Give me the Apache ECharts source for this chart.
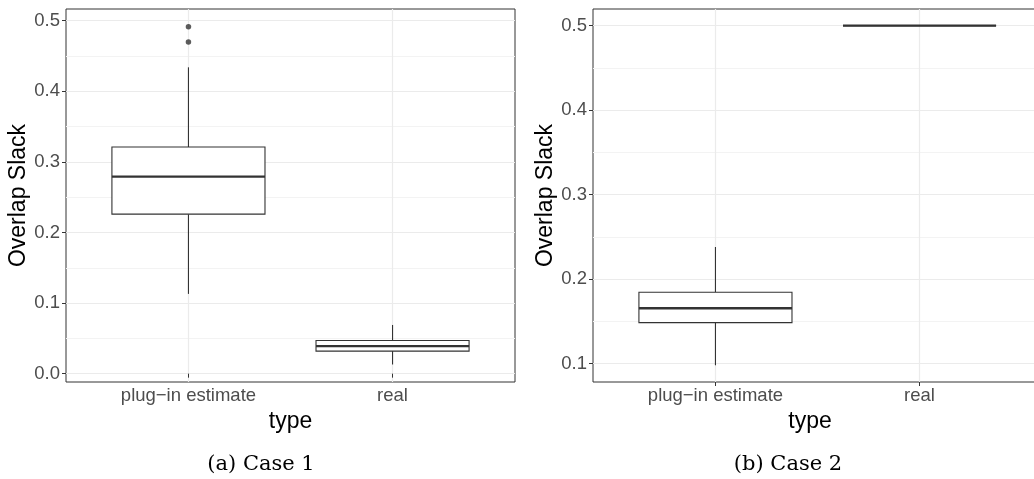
<!DOCTYPE html>
<html><head><meta charset="utf-8">
<script src="https://cdn.jsdelivr.net/npm/echarts@6/dist/echarts.min.js"></script>
<style>html,body{margin:0;padding:0;background:#fff}#c{width:1034px;height:479px}</style>
</head><body><div id="c"></div>
<script>
// ---- data ----
const categories = ['plug−in estimate', 'real'];
const catPositions = [1, 2];
// boxes: [lower whisker, Q1, median, Q3, upper whisker]
const case1Plugin = [0.113, 0.226, 0.279, 0.321, 0.434];
const case1Real = [0.013, 0.032, 0.039, 0.047, 0.069];
const case1PluginOutliers = [0.4915, 0.4698];
const case2Plugin = [0.098, 0.1485, 0.1655, 0.1845, 0.238];
const case2Real = [0.5, 0.5, 0.5, 0.5, 0.5];
const yTicks1 = [0, 0.1, 0.2, 0.3, 0.4, 0.5];
const yTicks2 = [0.1, 0.2, 0.3, 0.4, 0.5];
const yRange1 = [-0.0118, 0.5166];
const yRange2 = [0.0782, 0.5198];
const xRange = [0.4, 2.6];
const yTitle = 'Overlap Slack';
const xTitle = 'type';
const captions = ['(a) Case 1', '(b) Case 2'];

// ---- chart ----
const SANS = '"Liberation Sans", Arial, sans-serif';
const INK = '#333333';

function renderBox(params, api) {
  const x = api.value(0);
  const pLo = api.coord([x, api.value(1)]);
  const pQ1 = api.coord([x, api.value(2)]);
  const pMd = api.coord([x, api.value(3)]);
  const pQ3 = api.coord([x, api.value(4)]);
  const pHi = api.coord([x, api.value(5)]);
  const hw = api.size([0.75, 0])[0] / 2;
  return {
    type: 'group',
    children: [
      {type: 'line', shape: {x1: pLo[0], y1: pLo[1], x2: pQ1[0], y2: pQ1[1]}, style: {stroke: INK, lineWidth: 1.1}},
      {type: 'line', shape: {x1: pQ3[0], y1: pQ3[1], x2: pHi[0], y2: pHi[1]}, style: {stroke: INK, lineWidth: 1.1}},
      {type: 'rect', shape: {x: pQ3[0] - hw, y: pQ3[1], width: 2 * hw, height: pQ1[1] - pQ3[1]},
        style: {stroke: INK, fill: '#ffffff', lineWidth: 1.1}},
      {type: 'line', shape: {x1: pMd[0] - hw, y1: pMd[1], x2: pMd[0] + hw, y2: pMd[1]}, style: {stroke: INK, lineWidth: 2.3}}
    ]
  };
}

function xAxisFor(idx, namePad) {
  return {
    gridIndex: idx, type: 'value', min: xRange[0], max: xRange[1],
    axisLine: {show: false},
    axisTick: {show: true, customValues: catPositions, length: 4, lineStyle: {color: INK, width: 1}},
    axisLabel: {customValues: catPositions, formatter: v => categories[Math.round(v) - 1],
      color: '#4d4d4d', fontSize: 18.5, fontFamily: SANS, margin: 4},
    splitLine: {show: true, lineStyle: {color: '#ebebeb', width: 1.2}},
    name: xTitle, nameLocation: 'middle', nameGap: 25,
    nameTextStyle: {color: '#000', fontSize: 23, fontFamily: SANS, padding: namePad}
  };
}
function yAxisFor(idx, range, ticks, gap) {
  return {
    gridIndex: idx, type: 'value', min: range[0], max: range[1],
    axisLine: {show: false},
    axisTick: {show: true, customValues: ticks, length: 4, lineStyle: {color: INK, width: 1}},
    axisLabel: {customValues: ticks, formatter: v => v.toFixed(1),
      color: '#4d4d4d', fontSize: 18.5, fontFamily: SANS, margin: 6},
    splitLine: {show: true, lineStyle: {color: '#ebebeb', width: 1.2}},
    minorTick: {show: false, splitNumber: 2},
    minorSplitLine: {show: true, lineStyle: {color: '#f3f3f3', width: 1}},
    name: yTitle, nameLocation: 'middle', nameGap: gap,
    nameTextStyle: {color: '#000', fontSize: 23, fontFamily: SANS}
  };
}

const chart = echarts.init(document.getElementById('c'), null, {renderer: 'canvas'});
chart.setOption({
  animation: false,
  backgroundColor: '#ffffff',
  grid: [
    {left: 66, top: 9, width: 449, height: 373, show: true, borderColor: INK, borderWidth: 1,
      backgroundColor: 'transparent', containLabel: false, outerBoundsMode: 'none'},
    {left: 593, top: 9, width: 449, height: 373, show: true, borderColor: INK, borderWidth: 1,
      backgroundColor: 'transparent', containLabel: false, outerBoundsMode: 'none'}
  ],
  xAxis: [xAxisFor(0, [0, 0, 0, 0]), xAxisFor(1, [0, 15, 0, 0])],
  yAxis: [yAxisFor(0, yRange1, yTicks1, 35), yAxisFor(1, yRange2, yTicks2, 31)],
  series: [
    {type: 'custom', xAxisIndex: 0, yAxisIndex: 0, renderItem: renderBox, z: 3,
      encode: {x: 0, y: [1, 2, 3, 4, 5]},
      data: [[catPositions[0]].concat(case1Plugin), [catPositions[1]].concat(case1Real)]},
    {type: 'scatter', xAxisIndex: 0, yAxisIndex: 0, symbol: 'circle', symbolSize: 5.5, z: 4,
      itemStyle: {color: INK}, data: case1PluginOutliers.map(v => [catPositions[0], v])},
    {type: 'custom', xAxisIndex: 1, yAxisIndex: 1, renderItem: renderBox, z: 3,
      encode: {x: 0, y: [1, 2, 3, 4, 5]},
      data: [[catPositions[0]].concat(case2Plugin), [catPositions[1]].concat(case2Real)]}
  ],
  graphic: [
    {type: 'text', x: 261, y: 465, style: {text: captions[0], font: '21px "DejaVu Serif", serif',
      fill: '#000', align: 'center', verticalAlign: 'middle'}},
    {type: 'text', x: 788, y: 465, style: {text: captions[1], font: '21px "DejaVu Serif", serif',
      fill: '#000', align: 'center', verticalAlign: 'middle'}}
  ]
});
</script>
</body></html>
